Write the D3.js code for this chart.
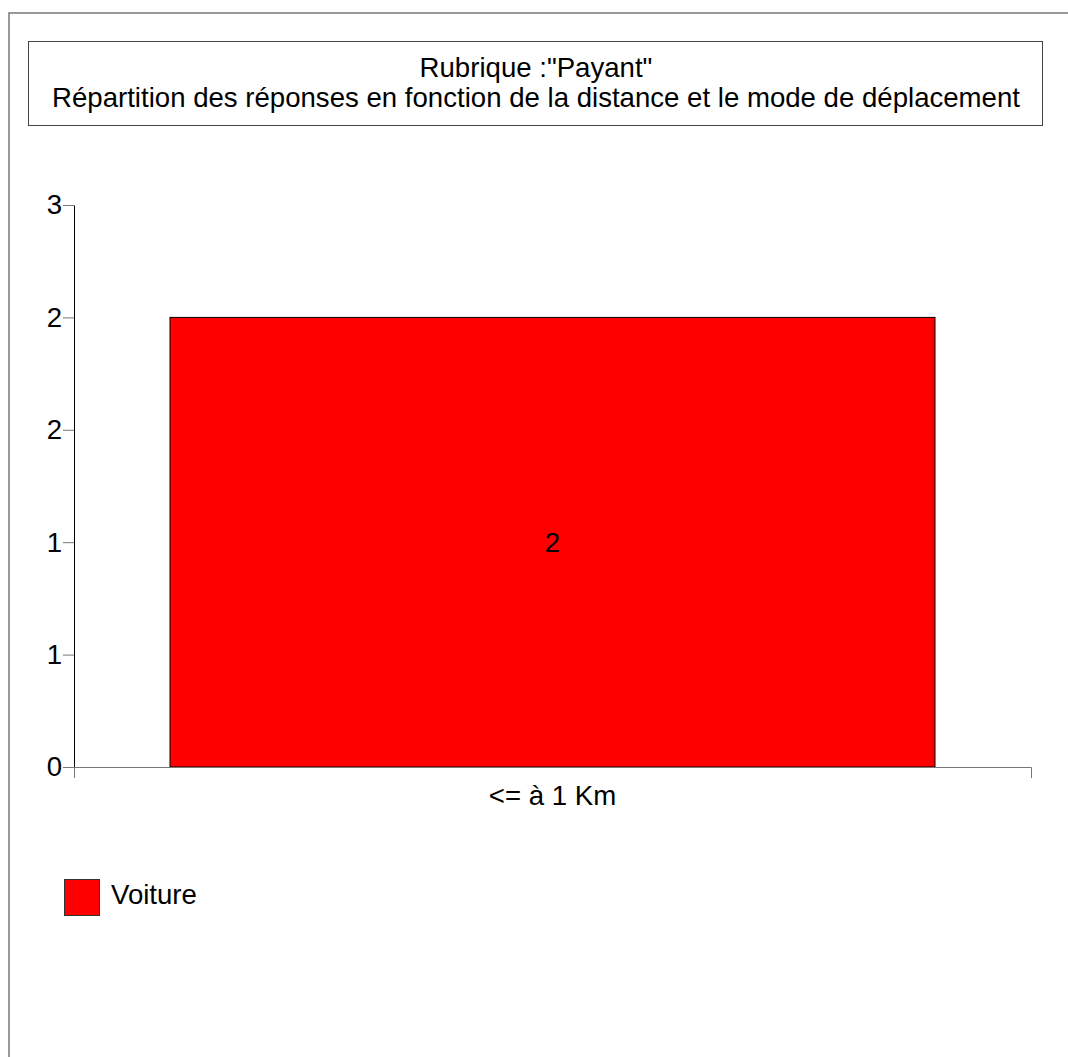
<!DOCTYPE html>
<html>
<head>
<meta charset="utf-8">
<script src="https://cdn.jsdelivr.net/npm/d3@7"></script>
<style>
  body { margin: 0; background: #fff; }
  svg text { font-family: Arial, "Liberation Sans", sans-serif; font-size: 27.6px; fill: #000; }
</style>
</head>
<body>
<svg id="chart" width="1068" height="1057"></svg>
<script>
// ── Data ──
const titleLines = ['Rubrique :"Payant"', 'Répartition des réponses en fonction de la distance et le mode de déplacement'];
const categories = ['<= à 1 Km'];
const seriesNames = ['Voiture'];
const seriesColors = ['#ff0000'];
const voiture = [2];
const yTicks = [0, 0.5, 1, 1.5, 2, 2.5];

const svg = d3.select('#chart');
const fontSize = '27.6px';

// ── Frame ──
svg.append('path')
  .attr('d', 'M9,1057V13H1068')
  .attr('fill', 'none').attr('stroke', '#777').attr('stroke-width', 1.5);

// ── Title box ──
svg.append('rect')
  .attr('x', 28.5).attr('y', 41.5).attr('width', 1014).attr('height', 84)
  .attr('fill', 'none').attr('stroke', '#444');
titleLines.forEach((t, i) => {
  svg.append('text')
    .attr('x', 536).attr('y', 77 + i * 29.5)
    .attr('text-anchor', 'middle').text(t);
});

// ── Scales ──
const x = d3.scaleBand().domain(categories).range([74, 1031]).padding(0.1115);
const y = d3.scaleLinear().domain([0, 2.5]).range([767, 205]);

// ── Bars ──
const bars = categories.map((c, i) => ({ cat: c, value: voiture[i] }));

svg.selectAll('rect.bar')
  .data(bars).enter().append('rect')
  .attr('class', 'bar')
  .attr('x', d => x(d.cat))
  .attr('y', d => y(d.value))
  .attr('width', x.bandwidth())
  .attr('height', d => y(0) - y(d.value))
  .attr('fill', seriesColors[0])
  .attr('stroke', '#000').attr('stroke-width', 1);

svg.selectAll('text.val')
  .data(bars).enter().append('text')
  .attr('class', 'val')
  .attr('x', d => x(d.cat) + x.bandwidth() / 2)
  .attr('y', d => (y(d.value) + y(0)) / 2)
  .attr('dy', '0.35em')
  .attr('text-anchor', 'middle')
  .text(d => d.value);

// ── Axes ──
const yAxis = svg.append('g').attr('transform', 'translate(74,0)')
  .call(d3.axisLeft(y).tickValues(yTicks).tickSizeInner(11).tickSizeOuter(0)
    .tickPadding(1).tickFormat(d => Math.round(d)));
yAxis.select('.domain').attr('stroke', '#000');
yAxis.selectAll('.tick line').attr('stroke', '#777');
yAxis.selectAll('text').style('font-size', fontSize).attr('fill', '#000');
yAxis.attr('font-size', null).attr('font-family', null);

const xAxis = svg.append('g').attr('transform', 'translate(0,767)')
  .call(d3.axisBottom(x).tickSizeInner(0).tickSizeOuter(11).tickPadding(18));
xAxis.select('.domain').attr('stroke', '#777');
xAxis.selectAll('text').style('font-size', fontSize).attr('fill', '#000');
xAxis.attr('font-size', null).attr('font-family', null);

// ── Legend ──
const legend = svg.append('g').attr('transform', 'translate(64,879)');
seriesNames.forEach((name, i) => {
  legend.append('rect')
    .attr('x', 0.5).attr('y', i * 50 + 0.5)
    .attr('width', 35).attr('height', 36)
    .attr('fill', seriesColors[i]).attr('stroke', '#333');
  legend.append('text')
    .attr('x', 47).attr('y', i * 50 + 25)
    .text(name);
});
</script>
</body>
</html>
